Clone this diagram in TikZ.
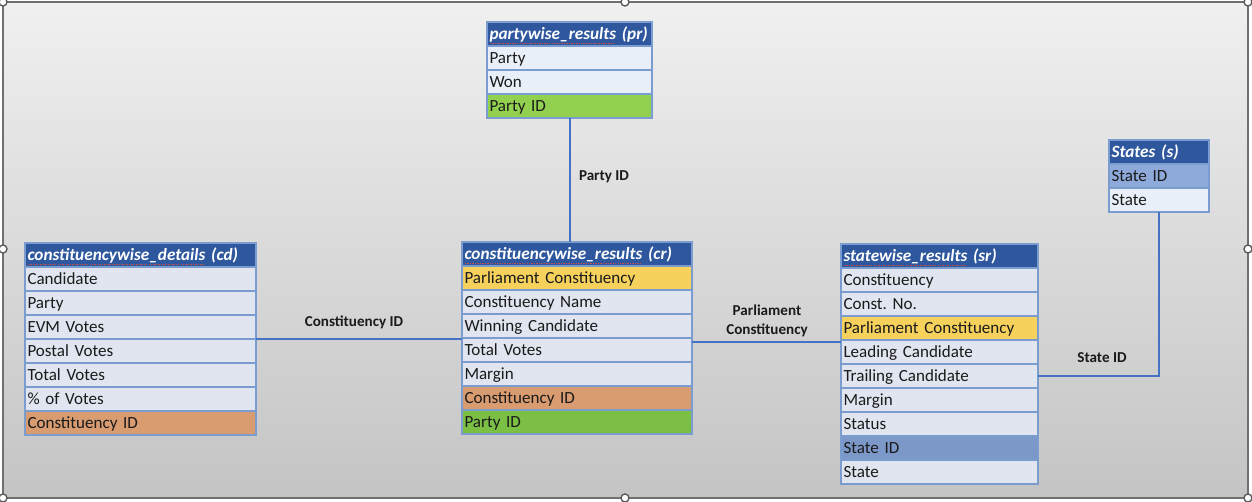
\documentclass[tikz,border=0pt]{standalone}
\usepackage{fontspec}
\setmainfont{Carlito}
\frenchspacing
\newdimen\pxu \pxu=0.02cm
\newsavebox\sqbox
\newcommand\squig[1]{\sbox\sqbox{#1}\rlap{\raisebox{-2.3pt}{\color{sq}\leaders\hbox to 1.4pt{\hss\rule{0.8pt}{0.6pt}\hss}\hskip\wd\sqbox}}\usebox\sqbox}
\definecolor{hdrb}{HTML}{2E579E}
\definecolor{cellb}{HTML}{7A9CCF}
\definecolor{rowf}{HTML}{E0E5EF}
\definecolor{rowl}{HTML}{E9EFF8}
\definecolor{yel}{HTML}{F6D25D}
\definecolor{ora}{HTML}{D99B70}
\definecolor{grnA}{HTML}{92D050}
\definecolor{grnB}{HTML}{7CBF45}
\definecolor{stA}{HTML}{7C98C8}
\definecolor{stB}{HTML}{8EAADB}
\definecolor{txt}{HTML}{1A1A1A}
\definecolor{sq}{HTML}{C0504D}
\definecolor{conn}{HTML}{4472C4}
\definecolor{bgtop}{HTML}{F0F0F0}
\definecolor{bgmid}{HTML}{E2E2E2}
\definecolor{bgbot}{HTML}{C4C4C4}
\definecolor{frm}{HTML}{707070}
\newcommand\rowfont{\fontsize{9.7}{11}\selectfont}
\newcommand\hdrfont{\fontsize{9.8}{11}\selectfont\bfseries\itshape}
\tikzset{
  cell/.style={draw=cellb, line width=0.6pt, anchor=north west, minimum height=24\pxu,
    inner xsep=2\pxu, inner ysep=0pt, outer sep=0pt, align=left, font=\rowfont, text=txt,
    text height=8.2pt, text depth=1.6pt},
  hdr/.style={cell, fill=hdrb, text=white, font=\hdrfont},
  lbl/.style={font=\fontsize{8.6}{10.8}\selectfont\bfseries, text=txt, align=center, inner sep=1pt},
  conline/.style={draw=conn, line width=0.9pt},
  handle/.style={draw=frm!80!black, fill=white, line width=0.8pt},
}
\newcommand\ertab[6]{%
  \pgfmathsetmacro\tw{#4-5}%
  \node[hdr, minimum width=#4\pxu, text width=\tw\pxu] (#1h) at (#2,#3) {#5};
  \foreach \f/\t [count=\i] in {#6} {
    \node[cell, fill=\f, minimum width=#4\pxu, text width=\tw\pxu] (#1r\i) at (#2,{#3+24*\i}) {\t};
  }
}
\begin{document}
\begin{tikzpicture}[x=0.02cm, y=-0.02cm]
\useasboundingbox (0,0) rectangle (1252,502);
\fill[white] (0,0) rectangle (1252,502);
\shade[top color=bgtop, middle color=bgmid, bottom color=bgbot] (3,2) rectangle (1248,498);
\draw[frm, line width=0.9pt] (3,2) rectangle (1248,498);
\foreach \hx/\hy in {3/2, 625/2, 1248/2, 3/249, 1248/249, 3/498, 625/498, 1248/498}
  \draw[handle] (\hx,\hy) circle [radius=4];

% tables
\ertab{pr}{487}{22}{165}{\squig{partywise\_results} (pr)}{rowl/Party, rowl/Won, grnA/Party ID}
\ertab{cd}{25}{243}{231}{\squig{constituencywise\_details} (cd)}{rowf/Candidate, rowf/Party, rowf/EVM Votes, rowf/Postal Votes, rowf/Total Votes, rowf/\% of Votes, ora/Constituency ID}
\ertab{cr}{462}{242}{230}{\squig{constituencywise\_results} (cr)}{yel/Parliament Constituency, rowf/Constituency Name, rowf/Winning Candidate, rowf/Total Votes, rowf/Margin, ora/Constituency ID, grnB/Party ID}
\ertab{sr}{841}{244}{197}{\squig{statewise\_results} (sr)}{rowf/Constituency, rowf/Const. No., yel/Parliament Constituency, rowf/Leading Candidate, rowf/Trailing Candidate, rowf/Margin, rowf/Status, stA/State ID, rowf/State}
\ertab{st}{1109}{140}{100}{States (s)}{stB/State ID, rowl/State}

% connectors
\draw[conline, line width=1.1pt] ([xshift=0.5\pxu]prr3.south) -- ([xshift=0.5\pxu]prr3.south |- crh.north);
\draw[conline] (cdr3.south east) -- (cdr3.south east -| crr4.west);
\draw[conline] ([yshift=-4\pxu]crr3.south east) -- ([yshift=-4\pxu]crr3.south east -| srr4.west);
\draw[conline] (srr5.east) -| (str2.south);

% labels
\node[lbl] (lpid) at (604,177) {Party ID};
\node[lbl] (lcid) at (354,322) {Constituency ID};
\node[lbl] (lpc) at (767,321) {Parliament\\Constituency};
\node[lbl] (lsid) at (1102,358) {State ID};
\end{tikzpicture}
\end{document}
